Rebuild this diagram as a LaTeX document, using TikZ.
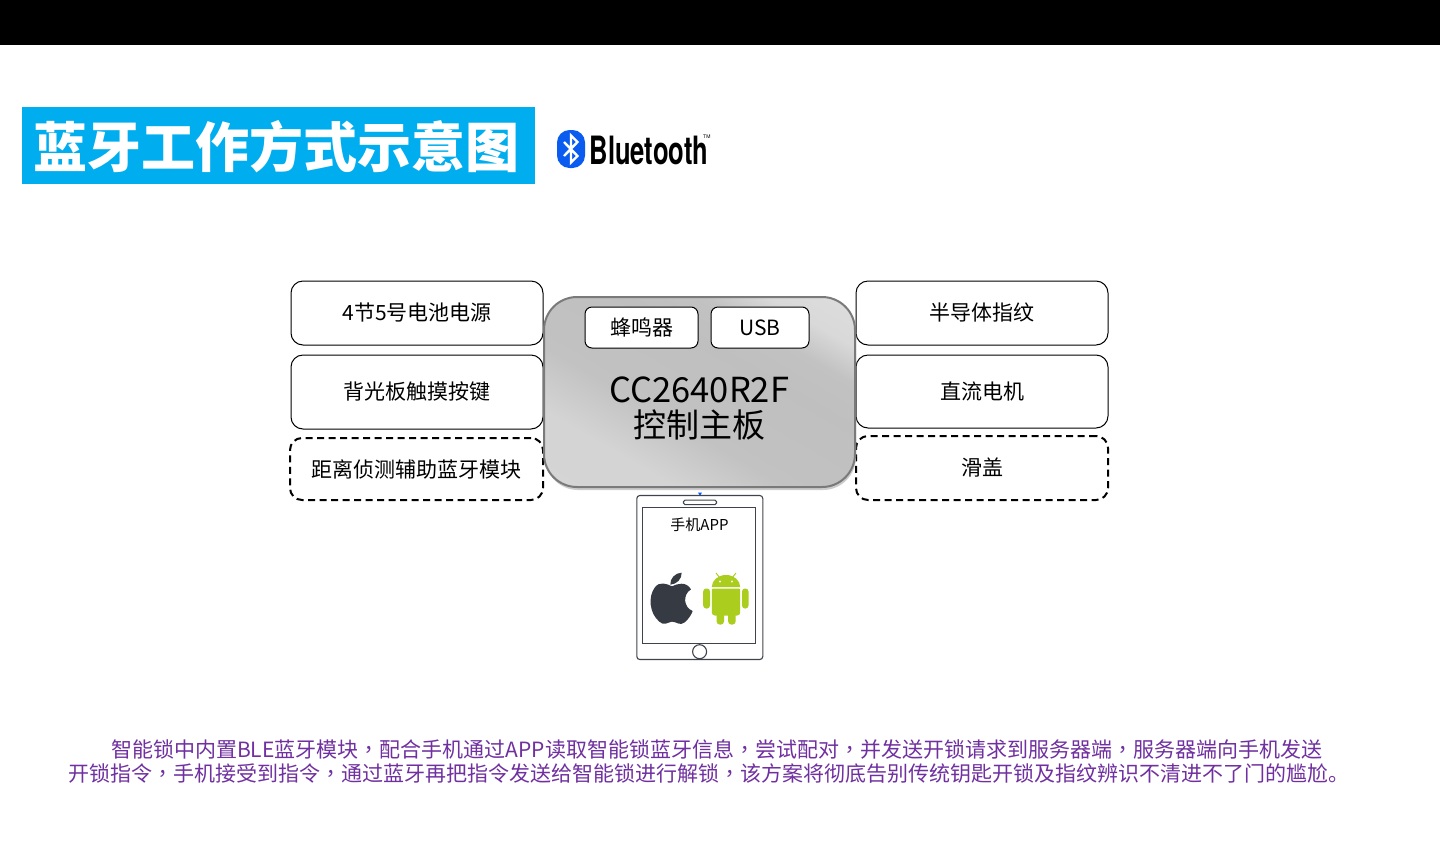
\documentclass[tikz,border=0pt]{standalone}
\usepackage{fontspec}
\setmainfont{Noto Sans CJK SC}
\newfontfamily\logofont{TeX Gyre Heros}
\newfontfamily\tcfont{Noto Sans CJK TC}
\newcommand{\fs}[1]{\fontsize{#1}{#1}\selectfont}
\newcommand{\cm}{{\tcfont ，}}
\pgfdeclarehorizontalshading{boardshade}{100bp}{color(0bp)=(black!16);color(30bp)=(black!17);color(42bp)=(black!24);color(60bp)=(black!25);color(68bp)=(black!24);color(75bp)=(black!15);color(100bp)=(black!10)}
\definecolor{titleblue}{HTML}{00AEEF}
\definecolor{btblue}{HTML}{0A5CF0}
\definecolor{bodypurple}{HTML}{7030A0}
\definecolor{phoneline}{HTML}{3F444C}
\definecolor{applegray}{HTML}{363A42}
\definecolor{droid}{HTML}{AACD1E}
\tikzset{
  x=1pt,y=-1pt,
  solidbox/.style={draw=black,line width=1pt,fill=white,rounded corners=12pt,inner sep=0pt,align=center,font=\fs{21}},
  dashbox/.style={solidbox,dash pattern=on 7pt off 4.5pt,line width=2pt},
  innerbox/.style={solidbox,rounded corners=7pt},
  phonepart/.style={draw=phoneline,line width=1.1pt,fill=white,inner sep=0pt},
}
\begin{document}
\begin{tikzpicture}
\useasboundingbox (0,0) rectangle (1440,852);
\fill[white] (0,0) rectangle (1440,852);
\fill[black] (0,0) rectangle (1440,45);
% title
\node[fill=titleblue,minimum width=513pt,minimum height=77pt,inner sep=0pt] (title) at (278.5,145.5) {};
\node[text=white,inner sep=0pt,font=\fs{54}\bfseries] (titletext) at (276,147) {蓝牙工作方式示意图};
% bluetooth logo
\node[fill=btblue,rounded corners=12.5pt,minimum width=28pt,minimum height=38pt,inner sep=0pt] (btmark) at (571,149) {};
\draw[white,line width=2.4pt,line join=miter] (564,142) -- (577.5,156) -- (571,162.5) -- (571,135.5) -- (577.5,142) -- (564,156);
\node[anchor=west,inner sep=0pt,xscale=0.655,font=\logofont\fs{39}\bfseries] (btword) at (589.5,150) {Bluetooth};
\node[anchor=west,inner sep=0pt,font=\logofont\fs{5}] (bttm) at (703,137) {TM};
% left boxes
\node[solidbox,minimum width=252pt,minimum height=64pt] (l1) at (417,313) {\raisebox{1pt}{4节5号电池电源}};
\node[solidbox,minimum width=252pt,minimum height=74pt] (l2) at (417,392) {背光板触摸按键};
\node[dashbox,minimum width=253pt,minimum height=62pt] (l3) at (416.5,469) {距离侦测辅助蓝牙模块};
% right boxes
\node[solidbox,minimum width=252pt,minimum height=64pt] (r1) at (982,313) {\raisebox{1pt}{半导体指纹}};
\node[solidbox,minimum width=252pt,minimum height=73pt] (r2) at (982,391.5) {直流电机};
\node[dashbox,minimum width=252pt,minimum height=64pt] (r3) at (982,468) {滑盖};
% board
\fill[black!20,rounded corners=33pt] (545,300) rectangle (856,490);
\node[draw=black!52,line width=2pt,rounded corners=33pt,shading=boardshade,shading angle=60,minimum width=311pt,minimum height=190pt,inner sep=0pt] (board) at (699.5,392) {};
\node[inner sep=0pt,font=\fs{33}] (boardcn) at (699,424.5) {控制主板};
\node[inner sep=0pt,font=\fs{34.5}] (boardchip) at (699.3,390) {CC2640R2F};
\node[innerbox,minimum width=113pt,minimum height=41pt] (buzzer) at (641.5,327.5) {蜂鸣器};
\node[innerbox,minimum width=98pt,minimum height=41pt] (usb) at (760,327.5) {USB};
% phone
\fill[blue!65!cyan] (698,492.5) -- (702,492.5) -- (700,496) -- cycle;
\node[phonepart,rounded corners=3pt,minimum width=126pt,minimum height=164pt] (phone) at (699.8,577.5) {};
\node[phonepart,minimum width=113pt,minimum height=136pt] (screen) at (699.2,575.3) {};
\node[phonepart,rounded corners=1.5pt,minimum width=33pt,minimum height=4.5pt] (speaker) at (700,502.3) {};
\node[phonepart,circle,minimum size=14pt] (home) at (699.6,651.7) {};
\node[inner sep=0pt,font=\fs{15}] (applabel) at (699.5,525) {手机APP};
% apple
\begin{scope}[shift={(620,485)},x=0.3333pt,y=-0.3333pt]
\fill[applegray] (156,304) .. controls (140,296) and (118,288) .. (104,308)
  .. controls (84,335) and (88,385) .. (118,410)
  .. controls (132,424) and (142,412) .. (156,410)
  .. controls (170,410) and (180,424) .. (194,412)
  .. controls (206,402) and (215,388) .. (218,378)
  .. controls (192,368) and (186,330) .. (213,313)
  .. controls (198,288) and (172,296) .. (156,304) -- cycle;
\fill[applegray] (151,299) .. controls (150,280) and (165,264) .. (185,263)
  .. controls (186,282) and (170,298) .. (151,299) -- cycle;
\end{scope}
% android
\begin{scope}[droid]
\fill (711.8,587) arc[start angle=180,end angle=0,x radius=14.2pt,y radius=12pt] -- cycle;
\fill[rounded corners=1pt] (711.8,588.5) -- (740.2,588.5) -- (740.2,612) [rounded corners=3pt] -- (740.2,615.5) -- (711.8,615.5) [rounded corners=1pt] -- cycle;
\fill[rounded corners=3pt] (703.2,588.5) rectangle (710,608.5);
\fill[rounded corners=3pt] (742,588.5) rectangle (748.5,608.5);
\fill[rounded corners=3pt] (716.6,612) rectangle (724,624.5);
\fill[rounded corners=3pt] (728.2,612) rectangle (735.6,624.5);
\draw[line width=0.9pt] (720,578) -- (716,573);
\draw[line width=0.9pt] (732,578) -- (736,573);
\fill[white] (720,581.5) circle[radius=1.1pt] (732,581.5) circle[radius=1.1pt];
\end{scope}
% body text
\node[anchor=west,inner sep=0pt,text=bodypurple,font=\fs{21}] (bodya) at (111,749) {智能锁中内置BLE蓝牙模块\cm 配合手机通过APP读取智能锁蓝牙信息\cm 尝试配对\cm 并发送开锁请求到服务器端\cm 服务器端向手机发送};
\node[anchor=west,inner sep=0pt,text=bodypurple,font=\fs{21}] (bodyb) at (68,773.5) {开锁指令\cm 手机接受到指令\cm 通过蓝牙再把指令发送给智能锁进行解锁\cm 该方案将彻底告别传统钥匙开锁及指纹辨识不清进不了门的尴尬。};
\end{tikzpicture}
\end{document}
